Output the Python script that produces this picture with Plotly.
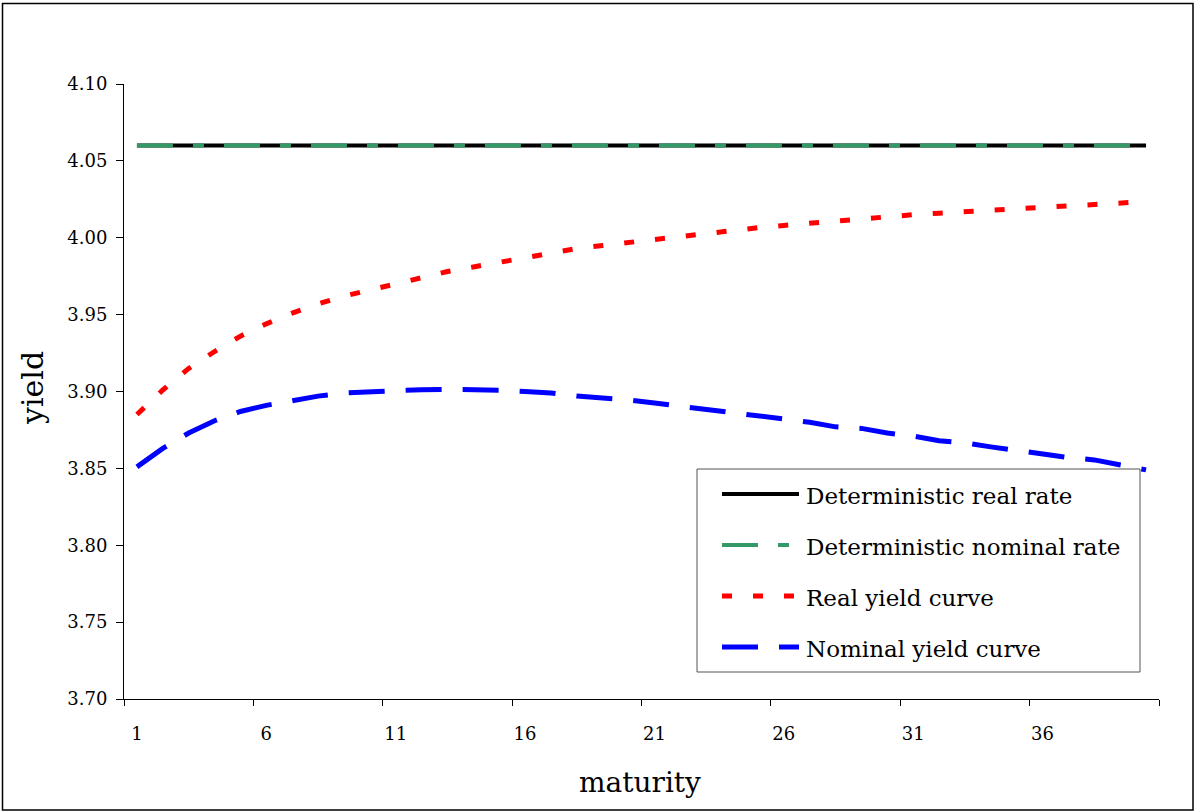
import plotly.graph_objects as go

# maturities 1..40 and yields
maturity = list(range(1, 41))
det_real = [4.06] * 40
det_nominal = [4.06] * 40
real_curve = [3.885, 3.901, 3.915, 3.926, 3.936, 3.944, 3.951, 3.957, 3.962, 3.966,
              3.970, 3.974, 3.978, 3.981, 3.984, 3.987, 3.990, 3.993, 3.995, 3.997,
              3.999, 4.001, 4.003, 4.005, 4.0065, 4.008, 4.0095, 4.011, 4.0125, 4.014,
              4.015, 4.016, 4.017, 4.018, 4.019, 4.020, 4.021, 4.022, 4.023, 4.0235]
nominal_curve = [3.851, 3.863, 3.873, 3.881, 3.887, 3.891, 3.894, 3.897, 3.899, 3.900,
                 3.9008, 3.9012, 3.9014, 3.9013, 3.9008, 3.900, 3.899, 3.897, 3.896, 3.8945,
                 3.8925, 3.8905, 3.8885, 3.8868, 3.8848, 3.882, 3.880, 3.877, 3.876, 3.873,
                 3.871, 3.868, 3.8665, 3.864, 3.8615, 3.8595, 3.857, 3.8555, 3.852, 3.849]

label_ticks = [1, 6, 11, 16, 21, 26, 31, 36]
series_names = ["Deterministic real rate", "Deterministic nominal rate",
                "Real yield curve", "Nominal yield curve"]

FONT = "DejaVu Serif"
W, H = 1195, 812
L, R, T, B = 124, 36, 84, 113
PW, PH = W - L - R, H - T - B


def px(x):
    return (x - L) / PW


def py(y):
    return (H - B - y) / PH


styles = [
    dict(color="black", width=4, dash="solid"),
    dict(color="#339966", width=4, dash="36px,20px,11px,20px"),
    dict(color="#FF0000", width=5, dash="10px,21px"),
    dict(color="#0000FF", width=5, dash="36px,21px"),
]
series = [det_real, det_nominal, real_curve, nominal_curve]

fig = go.Figure()
for name, vals, st in zip(series_names, series, styles):
    fig.add_trace(go.Scatter(x=maturity, y=vals, mode="lines", name=name,
                             line=st, showlegend=False))

# invisible trace on second x axis just to carry the boundary tick marks
fig.add_trace(go.Scatter(x=[0.5, 40.5], y=[None, None], xaxis="x2",
                         showlegend=False, hoverinfo="skip"))

fig.update_layout(
    width=W, height=H,
    margin=dict(l=L, r=R, t=T, b=B),
    paper_bgcolor="white", plot_bgcolor="white",
    font=dict(family=FONT, color="black"),
    xaxis=dict(range=[0.5, 40.5], tickvals=label_ticks,
               ticktext=[str(v) for v in label_ticks], ticks="",
               showline=True, linecolor="black", linewidth=1,
               showgrid=False, zeroline=False,
               tickfont=dict(size=18), ticklabelstandoff=18),
    xaxis2=dict(range=[0.5, 40.5], overlaying="x", anchor="y",
                tickvals=[0.5 + 5 * k for k in range(9)], ticks="outside",
                ticklen=6, tickcolor="black", showticklabels=False,
                showline=False, showgrid=False, zeroline=False),
    yaxis=dict(range=[3.70, 4.10], dtick=0.05, tick0=3.70, tickformat=".2f",
               ticks="outside", ticklen=7, tickcolor="black",
               showline=True, linecolor="black", linewidth=1,
               showgrid=False, zeroline=False,
               tickfont=dict(size=18), ticklabelstandoff=5),
)

shapes = [
    # outer chart frame
    dict(type="rect", xref="paper", yref="paper",
         x0=px(2.5), x1=px(1193), y0=py(810), y1=py(3.5),
         line=dict(color="black", width=1.5), layer="below"),
    # legend box
    dict(type="rect", xref="paper", yref="paper",
         x0=px(697), x1=px(1140), y0=py(672), y1=py(469),
         line=dict(color="#555555", width=1), fillcolor="white"),
]
annotations = []
row_y = [494, 545, 596, 647]
for name, st, yy in zip(series_names, styles, row_y):
    shapes.append(dict(type="line", xref="paper", yref="paper",
                       x0=px(722), x1=px(799), y0=py(yy), y1=py(yy),
                       line=st))
    annotations.append(dict(text=name, xref="paper", yref="paper",
                            x=px(804), y=py(yy + 2), xanchor="left",
                            yanchor="middle", showarrow=False,
                            font=dict(size=23, family=FONT)))

annotations.append(dict(text="yield", xref="paper", yref="paper",
                        x=px(32), y=py(388), textangle=-90,
                        xanchor="center", yanchor="middle", showarrow=False,
                        font=dict(size=30, family=FONT)))
annotations.append(dict(text="maturity", xref="paper", yref="paper",
                        x=px(640), y=py(782), xanchor="center",
                        yanchor="middle", showarrow=False,
                        font=dict(size=28, family=FONT)))

fig.update_layout(shapes=shapes, annotations=annotations)

# drop the default page margin so the figure sits at the window's corner
fig.write_html("out.html", config={"displayModeBar": False},
               post_script="document.body.style.margin='0';")
